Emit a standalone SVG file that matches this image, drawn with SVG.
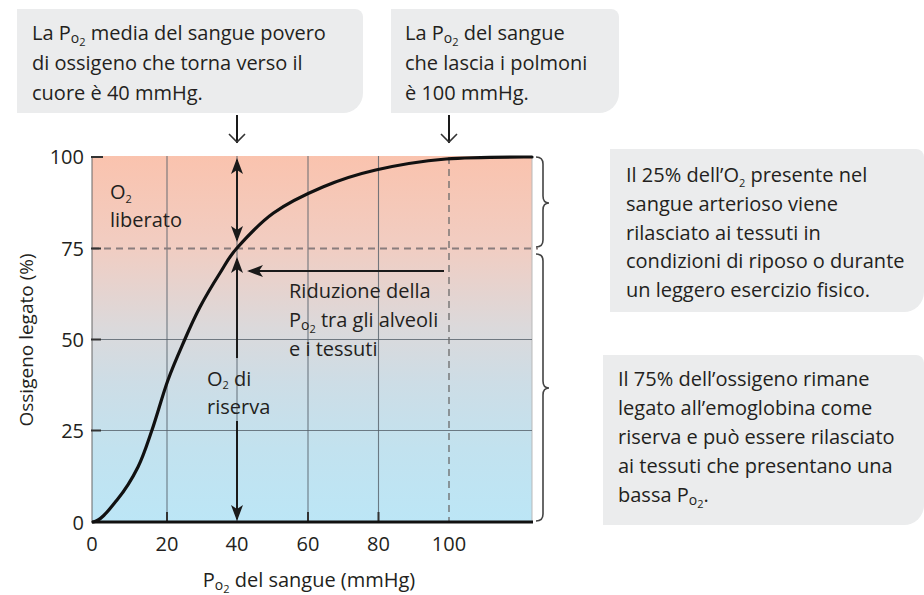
<svg xmlns="http://www.w3.org/2000/svg" width="924" height="595" viewBox="0 0 924 595">
<defs>
<linearGradient id="bg" x1="0" y1="0" x2="0" y2="1">
<stop offset="0" stop-color="#FAC3AE"/>
<stop offset="0.25" stop-color="#F1CDC2"/>
<stop offset="0.47" stop-color="#DBD9DB"/>
<stop offset="0.62" stop-color="#CDDDE6"/>
<stop offset="0.8" stop-color="#C2E2EF"/>
<stop offset="1" stop-color="#BCE6F6"/>
</linearGradient>
<marker id="ah" markerUnits="userSpaceOnUse" markerWidth="18" markerHeight="14" refX="14" refY="6" orient="auto-start-reverse">
<path d="M0,0 L16,6 L0,12 L4,6 z" fill="#1a1a1a"/>
</marker>
<marker id="oh" markerUnits="userSpaceOnUse" markerWidth="20" markerHeight="20" refX="10" refY="9" orient="auto">
<path d="M1,1 L9,9 L1,17" fill="none" stroke="#333" stroke-width="1.6"/>
</marker>
<style>
.t{font-family:"Open Sans","Liberation Sans",sans-serif;font-size:20px;fill:#231f20}
.box{fill:#EBECED}
.grid{stroke:#55606a;stroke-width:1.1;opacity:0.8}
.dash{stroke:#8a7d7d;stroke-width:2;stroke-dasharray:7 5}
.vdash{stroke:#6a6a6a;stroke-width:1.3;stroke-dasharray:7 5}
.arr{stroke:#1a1a1a;stroke-width:2;fill:none}
.brace{stroke:#444;stroke-width:1.6;fill:none}
.tick{stroke:#333;stroke-width:2}
.s1{font-size:14px}
.s2{font-size:11px}
</style>
</defs>

<g id="callout-40">
<path class="box" d="M17,9 H355 A8,8 0 0 1 363,17 V93 A20,20 0 0 1 343,113 H17 Z"/>
<text class="t" x="32" y="40">La P<tspan class="s1" dy="3">o</tspan><tspan class="s2" dy="3">2</tspan><tspan dy="-6"> media del sangue povero</tspan></text>
<text class="t" x="32" y="70">di ossigeno che torna verso il</text>
<text class="t" x="32" y="100">cuore è 40 mmHg.</text>
</g>

<g id="callout-100">
<path class="box" d="M391,9 H611 A8,8 0 0 1 619,17 V93 A20,20 0 0 1 599,113 H391 Z"/>
<text class="t" x="405" y="40">La P<tspan class="s1" dy="3">o</tspan><tspan class="s2" dy="3">2</tspan><tspan dy="-6"> del sangue</tspan></text>
<text class="t" x="405" y="70">che lascia i polmoni</text>
<text class="t" x="405" y="100">è 100 mmHg.</text>
</g>

<g id="callout-25">
<path class="box" d="M610,149 H916 A8,8 0 0 1 924,157 V292 A20,20 0 0 1 904,312 H610 Z"/>
<text class="t" x="626" y="182">Il 25% dell’O<tspan class="s2" dy="5">2</tspan><tspan dy="-5"> presente nel</tspan></text>
<text class="t" x="626" y="211">sangue arterioso viene</text>
<text class="t" x="626" y="240">rilasciato ai tessuti in</text>
<text class="t" x="626" y="268">condizioni di riposo o durante</text>
<text class="t" x="626" y="297">un leggero esercizio fisico.</text>
</g>

<g id="callout-75">
<path class="box" d="M603,355 H916 A8,8 0 0 1 924,363 V505 A20,20 0 0 1 904,525 H603 Z"/>
<text class="t" x="618" y="386">Il 75% dell’ossigeno rimane</text>
<text class="t" x="618" y="415">legato all’emoglobina come</text>
<text class="t" x="618" y="444">riserva e può essere rilasciato</text>
<text class="t" x="618" y="473">ai tessuti che presentano una</text>
<text class="t" x="618" y="502">bassa P<tspan class="s1" dy="3">o</tspan><tspan class="s2" dy="3">2</tspan><tspan dy="-6">.</tspan></text>
</g>

<g id="chart">
<rect x="92" y="156" width="440" height="366" fill="url(#bg)"/>
<line x1="532" y1="156" x2="532" y2="522" stroke="#b9b9b9" stroke-width="1"/>
<line x1="92" y1="156" x2="92" y2="522" stroke="#666" stroke-width="1"/>
<g id="grid">
<line class="grid" x1="167" y1="156" x2="167" y2="522"/>
<line class="grid" x1="237" y1="156" x2="237" y2="522"/>
<line class="grid" x1="308" y1="156" x2="308" y2="522"/>
<line class="grid" x1="378.5" y1="156" x2="378.5" y2="522"/>
<line class="grid" x1="92" y1="339.5" x2="532" y2="339.5"/>
<line class="grid" x1="92" y1="430.5" x2="532" y2="430.5"/>
<line class="vdash" x1="449" y1="157" x2="449" y2="522"/>
<line class="dash" x1="92" y1="248.5" x2="538" y2="248.5"/>
</g>
<g id="ticks">
<line class="tick" x1="91" y1="157" x2="103" y2="157"/>
<line class="tick" x1="91" y1="248.5" x2="101" y2="248.5"/>
<line class="tick" x1="91" y1="339.5" x2="101" y2="339.5"/>
<line class="tick" x1="91" y1="430.5" x2="101" y2="430.5"/>
<line class="tick" x1="167" y1="512" x2="167" y2="522"/>
<line class="tick" x1="308" y1="512" x2="308" y2="522"/>
<line class="tick" x1="378.5" y1="512" x2="378.5" y2="522"/>
</g>
<line x1="92" y1="522" x2="533" y2="522" stroke="#111" stroke-width="3"/>
<path id="curve" d="M93,522 C101,521 109.5,509.2 117,500 C124.5,490.8 132.2,478.7 138,467 C143.8,455.3 147,444.5 152,430 C157,415.5 162.5,395.2 168,380 C173.5,364.8 179.7,351.2 185,339 C190.3,326.8 194.2,318 200,307 C205.8,296 213.8,282.8 220,273 C226.2,263.2 228.1,258 237,248 C245.9,238 259.2,223.2 273.5,213 C287.8,202.8 305.8,194.2 322.8,187 C339.8,179.8 355.2,174.7 375.7,170 C396.2,165.3 420,161.2 446,159 C472,156.8 504,157 532,157" fill="none" stroke="#111" stroke-width="3.2" stroke-linecap="round"/>
</g>

<g id="labels">
<text class="t" x="84" y="164" text-anchor="end">100</text>
<text class="t" x="84" y="255.5" text-anchor="end">75</text>
<text class="t" x="84" y="346.5" text-anchor="end">50</text>
<text class="t" x="84" y="437.5" text-anchor="end">25</text>
<text class="t" x="84" y="530" text-anchor="end">0</text>
<text class="t" x="92" y="551" text-anchor="middle">0</text>
<text class="t" x="167" y="551" text-anchor="middle">20</text>
<text class="t" x="237" y="551" text-anchor="middle">40</text>
<text class="t" x="308" y="551" text-anchor="middle">60</text>
<text class="t" x="378.5" y="551" text-anchor="middle">80</text>
<text class="t" x="449" y="551" text-anchor="middle">100</text>
<text class="t" x="309" y="587" text-anchor="middle">P<tspan class="s1" dy="3">o</tspan><tspan class="s2" dy="3">2</tspan><tspan dy="-6"> del sangue (mmHg)</tspan></text>
<text class="t" transform="translate(33,340) rotate(-90)" text-anchor="middle" style="font-size:19px">Ossigeno legato (%)</text>
<text class="t" x="110" y="199">O<tspan class="s2" dy="4">2</tspan></text>
<text class="t" x="110" y="227">liberato</text>
<text class="t" x="289" y="298">Riduzione della</text>
<text class="t" x="289" y="327">P<tspan class="s1" dy="3">o</tspan><tspan class="s2" dy="3">2</tspan><tspan dy="-6"> tra gli alveoli</tspan></text>
<text class="t" x="289" y="356">e i tessuti</text>
<text class="t" x="207" y="386">O<tspan class="s2" dy="3">2</tspan><tspan dy="-3"> di</tspan></text>
<text class="t" x="207" y="414">riserva</text>
</g>

<g id="connectors">
<line class="arr" x1="237" y1="115" x2="237" y2="143" marker-end="url(#oh)"/>
<line class="arr" x1="449" y1="115" x2="449" y2="143" marker-end="url(#oh)"/>
<line class="arr" x1="237" y1="160" x2="237" y2="240" marker-start="url(#ah)" marker-end="url(#ah)"/>
<line class="arr" x1="237" y1="259" x2="237" y2="358" marker-start="url(#ah)"/>
<line class="arr" x1="237" y1="421" x2="237" y2="519" marker-end="url(#ah)"/>
<line class="arr" x1="444" y1="271" x2="249" y2="271" marker-end="url(#ah)"/>
<path class="brace" d="M536,157 Q543,157 543,164 V196 Q543,203 549,203 Q543,203 543,210 V240 Q543,247 536,247"/>
<path class="brace" d="M536,254 Q543,254 543,261 V381 Q543,388 549,388 Q543,388 543,395 V514 Q543,521 536,521"/>
</g>
</svg>
